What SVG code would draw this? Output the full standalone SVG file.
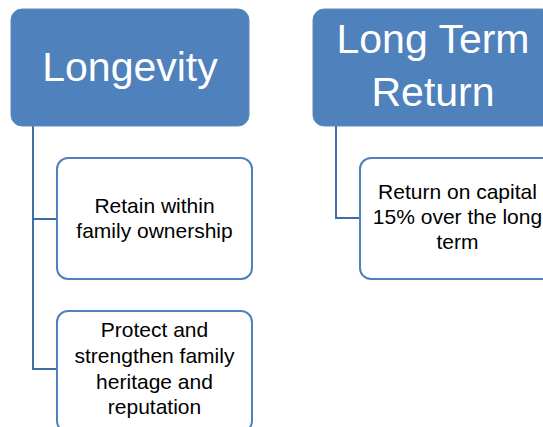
<svg xmlns="http://www.w3.org/2000/svg" width="543" height="427" viewBox="0 0 543 427">
<style>
.head{fill:#4F81BD;stroke:#5A8AC4;stroke-width:1}
.child{fill:#FFFFFF;stroke:#4F81BD;stroke-width:2}
.ht{font-family:"Liberation Sans",Arial,sans-serif;font-size:41px;fill:#FFFFFF;text-anchor:middle}
.ct{font-family:"Liberation Sans",Arial,sans-serif;font-size:21px;fill:#000000;text-anchor:middle}
.conn{fill:none;stroke:#3F6EA6;stroke-width:2}
</style>
<rect width="543" height="427" fill="#FFFFFF"/>
<g id="connectors">
<path class="conn" d="M33,126 V369 H57 M33,219 H57"/>
<path class="conn" d="M336,126 V218 H360"/>
</g>
<g id="longevity">
<rect class="head" x="11" y="9" width="238" height="117" rx="11"/>
<text class="ht" x="130" y="81">Longevity</text>
</g>
<g id="long-term-return">
<rect class="head" x="313" y="9" width="240" height="117" rx="11"/>
<text class="ht" x="433" y="53">Long Term</text>
<text class="ht" x="433" y="106">Return</text>
</g>
<g id="retain">
<rect class="child" x="57" y="158" width="195" height="121" rx="11"/>
<text class="ct" x="154.5" y="213">Retain within</text>
<text class="ct" x="154.5" y="238">family ownership</text>
</g>
<g id="protect">
<rect class="child" x="57" y="311" width="195" height="121" rx="11"/>
<text class="ct" x="154.5" y="337">Protect and</text>
<text class="ct" x="154.5" y="363">strengthen family</text>
<text class="ct" x="154.5" y="389">heritage and</text>
<text class="ct" x="154.5" y="414">reputation</text>
</g>
<g id="return-capital">
<rect class="child" x="360" y="158" width="195" height="121" rx="11"/>
<text class="ct" x="457.5" y="199">Return on capital</text>
<text class="ct" x="457.5" y="224">15% over the long</text>
<text class="ct" x="457.5" y="249">term</text>
</g>
</svg>
